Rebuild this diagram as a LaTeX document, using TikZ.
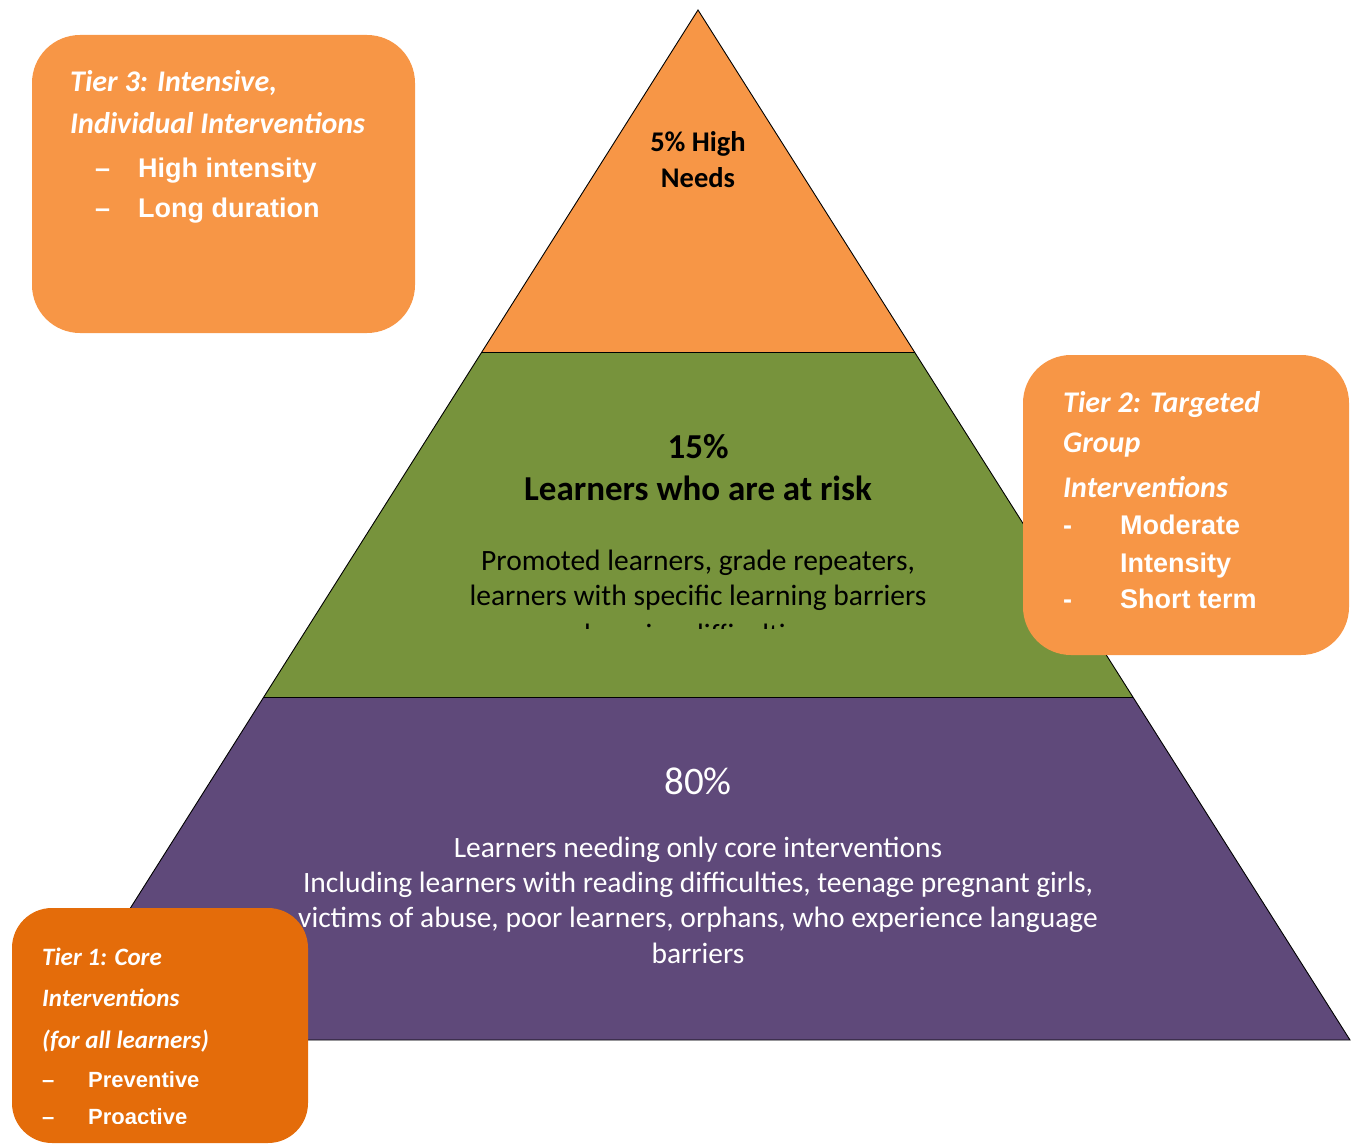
\documentclass[tikz,border=0pt]{standalone}
\usepackage{fontspec}
\setmainfont{Carlito}
\newfontfamily\arialf{Liberation Sans}
\definecolor{torange}{HTML}{F79646}
\definecolor{tgreen}{HTML}{77933C}
\definecolor{tpurple}{HTML}{5F497A}
\definecolor{tdark}{HTML}{E46C0A}
\tikzset{
  band/.style={draw=black, line width=0.9pt, line join=miter},
  txt/.style={anchor=base, inner sep=0pt},
  body/.style={txt, font=\fontsize{29.5}{35}\selectfont},
  tierbox/.style={rectangle, rounded corners=48pt, inner sep=0pt},
  btitle/.style={anchor=base west, inner sep=0pt, text=white, font=\fontsize{30}{36}\selectfont\bfseries\itshape},
  bitem/.style={anchor=base west, inner sep=0pt, text=white, font=\arialf\fontsize{27}{32}\selectfont\bfseries},
  stitle/.style={btitle, font=\fontsize{25}{30}\selectfont\bfseries\itshape},
  sitem/.style={bitem, font=\arialf\fontsize{22}{27}\selectfont\bfseries},
}
\begin{document}
\begin{tikzpicture}[x=1pt,y=-1pt]
\useasboundingbox (0,0) rectangle (1360,1145);
% pyramid corners
\coordinate (apex) at (698,10);
\coordinate (l1) at (481.8,352);
\coordinate (r1) at (914.5,352);
\coordinate (l2) at (263.8,697);
\coordinate (r2) at (1132.9,697);
\coordinate (l3) at (47,1040);
\coordinate (r3) at (1350,1040);
\fill[tpurple] (l2) -- (r2) -- (r3) -- (l3) -- cycle;
\fill[tgreen] (l1) -- (r1) -- (r2) -- (l2) -- cycle;
\fill[torange] (apex) -- (r1) -- (l1) -- cycle;
\draw[band] (apex) -- (r3) -- (l3) -- cycle;
\draw[band] (l1) -- (r1);
\draw[band] (l2) -- (r2);

% top band
\node[txt, font=\fontsize{28.5}{34}\selectfont\bfseries] (top1) at (698,152) {5\% High};
\node[txt, font=\fontsize{28.5}{34}\selectfont\bfseries] (top2) at (698,187) {Needs};

% middle band
\node[txt, font=\fontsize{35}{40}\selectfont\bfseries] (mid1) at (698,458) {15\%};
\node[txt, font=\fontsize{35}{40}\selectfont\bfseries] (mid2) at (698,500) {Learners who are at risk};
\node[body] (mid3) at (698,570) {Promoted learners, grade repeaters,};
\node[body] (mid4) at (698,605) {learners with specific learning barriers};
\begin{scope}
  \clip (0,0) rectangle (1360,628.5);
  \node[body] (mid5) at (698,644) {learning difficulties};
\end{scope}

% bottom band
\node[txt, text=white, font=\fontsize{39}{46}\selectfont] (bot1) at (698,794) {80\%};
\node[body, text=white] (bot2) at (698,857) {Learners needing only core interventions};
\node[body, text=white] (bot3) at (698,892) {Including learners with reading difficulties, teenage pregnant girls,};
\node[body, text=white] (bot4) at (698,927) {victims of abuse, poor learners, orphans, who experience language};
\node[body, text=white] (bot5) at (698,963) {barriers};

% Tier 3 box
\node[tierbox, fill=torange, minimum width=383pt, minimum height=298pt] (t3box) at (223.5,184) {};
\node[btitle] (t3a) at (70,92) {Tier 3: Intensive,};
\node[btitle] (t3b) at (70,134) {Individual Interventions};
\node[bitem] (t3c) at (95,177) {–};
\node[bitem] (t3d) at (138,177) {High intensity};
\node[bitem] (t3e) at (95,217) {–};
\node[bitem] (t3f) at (138,217) {Long duration};

% Tier 2 box
\node[tierbox, fill=torange, minimum width=326pt, minimum height=300pt] (t2box) at (1186,505) {};
\node[btitle] (t2a) at (1063,412) {Tier 2: Targeted};
\node[btitle] (t2b) at (1063,452) {Group};
\node[btitle] (t2c) at (1063,497) {Interventions};
\node[bitem] (t2d) at (1063,534) {-};
\node[bitem] (t2e) at (1120,534) {Moderate};
\node[bitem] (t2f) at (1120,572) {Intensity};
\node[bitem] (t2g) at (1063,608) {-};
\node[bitem] (t2h) at (1120,608) {Short term};

% Tier 1 box
\node[tierbox, fill=tdark, rounded corners=40pt, minimum width=296pt, minimum height=235pt] (t1box) at (160,1025.5) {};
\node[stitle] (t1a) at (42,965) {Tier 1: Core};
\node[stitle] (t1b) at (42,1006) {Interventions};
\node[stitle] (t1c) at (42,1048) {(for all learners)};
\node[sitem] (t1d) at (42,1087) {–};
\node[sitem] (t1e) at (88,1087) {Preventive};
\begin{scope}
  \clip (0,0) rectangle (1360,1123);
  \node[sitem] (t1f) at (42,1124) {–};
  \node[sitem] (t1g) at (88,1124) {Proactive};
\end{scope}
\end{tikzpicture}
\end{document}
